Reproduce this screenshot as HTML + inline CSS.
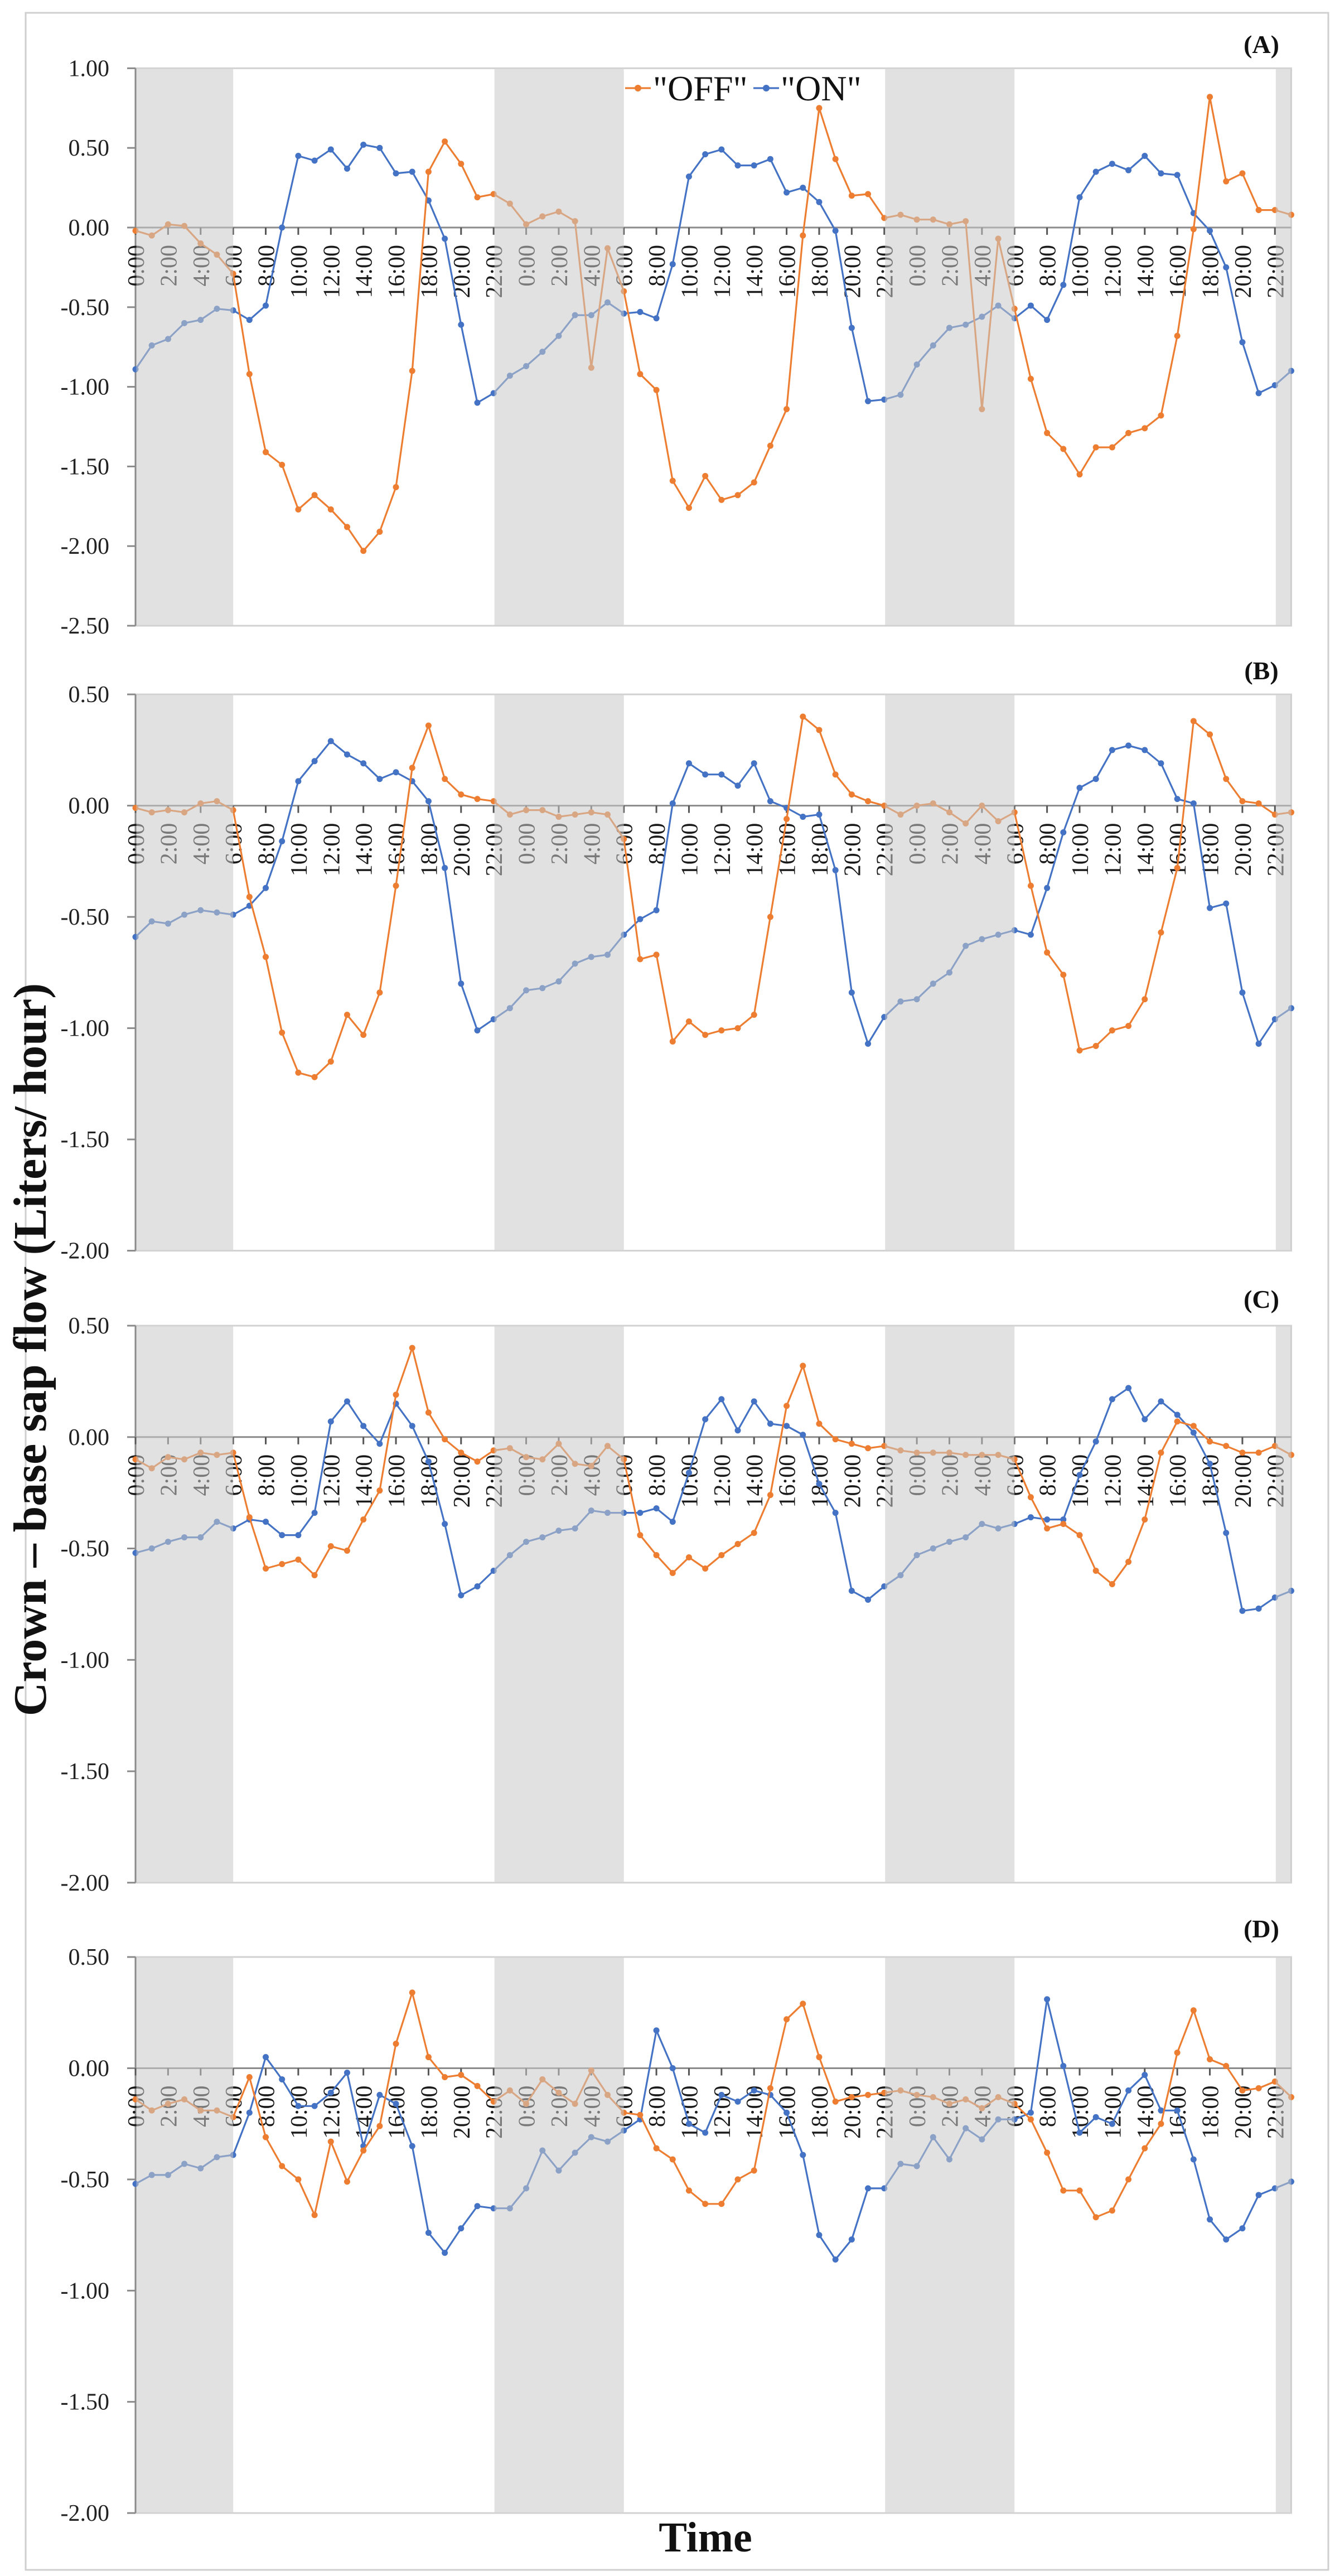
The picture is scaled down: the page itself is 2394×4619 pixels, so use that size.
<!DOCTYPE html>
<html>
<head>
<meta charset="utf-8">
<style>
  html,body{margin:0;padding:0;background:#fff;}
  svg{display:block;}
  text{font-family:"Liberation Serif","DejaVu Serif",serif;}
</style>
</head>
<body>
<svg id="fig" xmlns="http://www.w3.org/2000/svg" width="2394" height="4619" viewBox="0 0 2394 4619">
  <rect x="0" y="0" width="2394" height="4619" fill="#fff"/>
  <rect x="46" y="23" width="2336" height="4585" fill="none" stroke="#cfcfcf" stroke-width="3"/>
  <g id="panels"></g>
  <text x="0" y="0" transform="translate(82,2420) rotate(-90)" text-anchor="middle" font-size="84" font-weight="bold" fill="#111" stroke="#fff" stroke-width="0">Crown – base sap flow (Liters/ hour)</text>
  <text x="1265" y="4575" text-anchor="middle" font-size="76" font-weight="bold" fill="#111">Time</text>
</svg>
<script>
// ---- Data (hourly, 3 days, index 0 = 0:00 day 1) ----
const hourLabels = ["0:00","2:00","4:00","6:00","8:00","10:00","12:00","14:00","16:00","18:00","20:00","22:00"];
const panelNames = ["A","B","C","D"];

const offA = [-0.02,-0.05,0.02,0.01,-0.10,-0.17,-0.29,-0.92,-1.41,-1.49,-1.77,-1.68,-1.77,-1.88,-2.03,-1.91,-1.63,-0.90,0.35,0.54,0.40,0.19,0.21,0.15,0.02,0.07,0.10,0.04,-0.88,-0.13,-0.40,-0.92,-1.02,-1.59,-1.76,-1.56,-1.71,-1.68,-1.60,-1.37,-1.14,-0.05,0.75,0.43,0.20,0.21,0.06,0.08,0.05,0.05,0.02,0.04,-1.14,-0.07,-0.51,-0.95,-1.29,-1.39,-1.55,-1.38,-1.38,-1.29,-1.26,-1.18,-0.68,-0.01,0.82,0.29,0.34,0.11,0.11,0.08];
const onA = [-0.89,-0.74,-0.70,-0.60,-0.58,-0.51,-0.52,-0.58,-0.49,0.00,0.45,0.42,0.49,0.37,0.52,0.50,0.34,0.35,0.17,-0.07,-0.61,-1.10,-1.04,-0.93,-0.87,-0.78,-0.68,-0.55,-0.55,-0.47,-0.54,-0.53,-0.57,-0.23,0.32,0.46,0.49,0.39,0.39,0.43,0.22,0.25,0.16,-0.02,-0.63,-1.09,-1.08,-1.05,-0.86,-0.74,-0.63,-0.61,-0.56,-0.49,-0.57,-0.49,-0.58,-0.36,0.19,0.35,0.40,0.36,0.45,0.34,0.33,0.09,-0.02,-0.25,-0.72,-1.04,-0.99,-0.90];

const offB = [-0.01,-0.03,-0.02,-0.03,0.01,0.02,-0.02,-0.41,-0.68,-1.02,-1.20,-1.22,-1.15,-0.94,-1.03,-0.84,-0.36,0.17,0.36,0.12,0.05,0.03,0.02,-0.04,-0.02,-0.02,-0.05,-0.04,-0.03,-0.04,-0.15,-0.69,-0.67,-1.06,-0.97,-1.03,-1.01,-1.00,-0.94,-0.50,-0.06,0.40,0.34,0.14,0.05,0.02,0.00,-0.04,0.00,0.01,-0.03,-0.08,0.00,-0.07,-0.03,-0.36,-0.66,-0.76,-1.10,-1.08,-1.01,-0.99,-0.87,-0.57,-0.28,0.38,0.32,0.12,0.02,0.01,-0.04,-0.03];
const onB = [-0.59,-0.52,-0.53,-0.49,-0.47,-0.48,-0.49,-0.45,-0.37,-0.16,0.11,0.20,0.29,0.23,0.19,0.12,0.15,0.11,0.02,-0.28,-0.80,-1.01,-0.96,-0.91,-0.83,-0.82,-0.79,-0.71,-0.68,-0.67,-0.58,-0.51,-0.47,0.01,0.19,0.14,0.14,0.09,0.19,0.02,-0.01,-0.05,-0.04,-0.29,-0.84,-1.07,-0.95,-0.88,-0.87,-0.80,-0.75,-0.63,-0.60,-0.58,-0.56,-0.58,-0.37,-0.12,0.08,0.12,0.25,0.27,0.25,0.19,0.03,0.01,-0.46,-0.44,-0.84,-1.07,-0.96,-0.91];

const offC = [-0.10,-0.14,-0.09,-0.10,-0.07,-0.08,-0.07,-0.36,-0.59,-0.57,-0.55,-0.62,-0.49,-0.51,-0.37,-0.24,0.19,0.40,0.11,-0.01,-0.07,-0.11,-0.06,-0.05,-0.09,-0.10,-0.03,-0.12,-0.13,-0.04,-0.10,-0.44,-0.53,-0.61,-0.54,-0.59,-0.53,-0.48,-0.43,-0.26,0.14,0.32,0.06,-0.01,-0.03,-0.05,-0.04,-0.06,-0.07,-0.07,-0.07,-0.08,-0.08,-0.08,-0.10,-0.27,-0.41,-0.39,-0.44,-0.60,-0.66,-0.56,-0.37,-0.07,0.07,0.05,-0.02,-0.04,-0.07,-0.07,-0.04,-0.08];
const onC = [-0.52,-0.50,-0.47,-0.45,-0.45,-0.38,-0.41,-0.37,-0.38,-0.44,-0.44,-0.34,0.07,0.16,0.05,-0.03,0.15,0.05,-0.11,-0.39,-0.71,-0.67,-0.60,-0.53,-0.47,-0.45,-0.42,-0.41,-0.33,-0.34,-0.34,-0.34,-0.32,-0.38,-0.16,0.08,0.17,0.03,0.16,0.06,0.05,0.01,-0.21,-0.34,-0.69,-0.73,-0.67,-0.62,-0.53,-0.50,-0.47,-0.45,-0.39,-0.41,-0.39,-0.36,-0.37,-0.37,-0.17,-0.02,0.17,0.22,0.08,0.16,0.10,0.02,-0.12,-0.43,-0.78,-0.77,-0.72,-0.69];

const offD = [-0.14,-0.19,-0.16,-0.14,-0.19,-0.19,-0.22,-0.04,-0.31,-0.44,-0.50,-0.66,-0.33,-0.51,-0.37,-0.26,0.11,0.34,0.05,-0.04,-0.03,-0.08,-0.15,-0.10,-0.16,-0.05,-0.11,-0.16,-0.01,-0.12,-0.20,-0.21,-0.36,-0.41,-0.55,-0.61,-0.61,-0.50,-0.46,-0.09,0.22,0.29,0.05,-0.15,-0.13,-0.12,-0.11,-0.10,-0.12,-0.13,-0.16,-0.14,-0.18,-0.13,-0.16,-0.23,-0.38,-0.55,-0.55,-0.67,-0.64,-0.50,-0.36,-0.25,0.07,0.26,0.04,0.01,-0.10,-0.09,-0.06,-0.13];
const onD = [-0.52,-0.48,-0.48,-0.43,-0.45,-0.40,-0.39,-0.20,0.05,-0.05,-0.17,-0.17,-0.11,-0.02,-0.35,-0.12,-0.16,-0.35,-0.74,-0.83,-0.72,-0.62,-0.63,-0.63,-0.54,-0.37,-0.46,-0.38,-0.31,-0.33,-0.28,-0.23,0.17,0.00,-0.25,-0.29,-0.12,-0.15,-0.10,-0.12,-0.20,-0.39,-0.75,-0.86,-0.77,-0.54,-0.54,-0.43,-0.44,-0.31,-0.41,-0.27,-0.32,-0.23,-0.23,-0.20,0.31,0.01,-0.29,-0.22,-0.25,-0.10,-0.03,-0.19,-0.19,-0.41,-0.68,-0.77,-0.72,-0.57,-0.54,-0.51];

const ticksA = [1.00,0.50,0.00,-0.50,-1.00,-1.50,-2.00,-2.50];
const ticksBCD = [0.50,0.00,-0.50,-1.00,-1.50,-2.00];
// night periods as [startHourIndex, endHourIndex]
const nightStarts = [0,22,46,70];
const nightEnds = [6,30,54,71];

const offSeries = [offA,offB,offC,offD];
const onSeries = [onA,onB,onC,onD];
const tickSets = [ticksA,ticksBCD,ticksBCD,ticksBCD];

// ---- Layout ----
const NS = "http://www.w3.org/2000/svg";
const X0 = 243, DX = 29.19, NPTS = 72;
const layouts = [
  {zero:408, ppu:285.6, labelY:95},
  {zero:1444.6, ppu:399, labelY:1218},
  {zero:2576.8, ppu:399.5, labelY:2345},
  {zero:3708.5, ppu:398.8, labelY:3474}
];
const ORANGE="#ED7D31", BLUE="#4472C4";

function mk(tag, attrs, parent){
  const e=document.createElementNS(NS,tag);
  for(const k in attrs) e.setAttribute(k,attrs[k]);
  parent.appendChild(e);
  return e;
}
function xOf(i){return X0 + i*DX;}

const root=document.getElementById('panels');
for(let p=0;p<4;p++){
  const L=layouts[p];
  const ticks=tickSets[p];
  const yOf=v=>L.zero - v*L.ppu;
  const yTop=yOf(ticks[0]), yBot=yOf(ticks[ticks.length-1]);
  const xR=xOf(NPTS-1);
  const g=mk('g',{},root);
  
  

  // plot box border
  const box=mk('rect',{x:X0,y:yTop,width:xR-X0,height:yBot-yTop,fill:'none',stroke:'#d2d2d2','stroke-width':3},g);
  
  

  // y axis & ticks
  const ya=mk('line',{x1:X0,y1:yTop,x2:X0,y2:yBot,stroke:'#8a8a8a','stroke-width':3},g);
  
  
  ticks.forEach(t=>{
    const y=yOf(t);
    mk('line',{x1:X0-15,y1:y,x2:X0,y2:y,stroke:'#8a8a8a','stroke-width':3},g);
    const tl=mk('text',{x:196,y:y+14,'text-anchor':'end','font-size':42,fill:'#222'},g);
    tl.textContent=t.toFixed(2);
    
    
  });

  // zero line (category axis)
  const za=mk('line',{x1:X0,y1:L.zero,x2:xR,y2:L.zero,stroke:'#8a8a8a','stroke-width':3},g);
  
  
  for(let i=0;i<NPTS;i+=2){
    const x=xOf(i);
    mk('line',{x1:x,y1:L.zero,x2:x,y2:L.zero+13,stroke:'#555','stroke-width':3},g);
    const tx=mk('text',{x:0,y:0,'text-anchor':'end','font-size':42,fill:'#1a1a1a',transform:`translate(${x+15},${L.zero+31}) rotate(-90)`},g);
    tx.textContent=hourLabels[(i%24)/2];
    
    
  }

  // series
  function drawSeries(vals,color,name){
    const sg=mk('g',{},g);
    
    
    const pts=vals.map((v,i)=>xOf(i).toFixed(1)+','+yOf(v).toFixed(1)).join(' ');
    const pl=mk('polyline',{points:pts,fill:'none',stroke:color,'stroke-width':3.2,'stroke-linejoin':'round'},sg);
    
    
    vals.forEach((v,i)=>{
      const c=mk('circle',{cx:xOf(i),cy:yOf(v),r:5.5,fill:color},sg);
      
      
    });
  }
  drawSeries(onSeries[p],BLUE,'on-series');
  drawSeries(offSeries[p],ORANGE,'off-series');

  // night bands (overlay, fade what lies beneath)
  for(let k=0;k<nightStarts.length;k++){
    const xa=xOf(nightStarts[k]), xb=xOf(nightEnds[k]);
    const b=mk('rect',{x:xa+1.5,y:yTop+1.5,width:xb-xa-1.5,height:yBot-yTop-3,fill:'rgba(200,200,200,0.55)'},g);
    
    
  }

  // panel label
  const lab=mk('text',{x:2262,y:L.labelY,'text-anchor':'middle','font-size':46,'font-weight':'bold',fill:'#111'},g);
  lab.textContent='('+panelNames[p]+')';
  
  
}

// legend (panel A)
const lg=mk('g',{},root);


const le1=mk('g',{},lg);


mk('line',{x1:1121,y1:158,x2:1167,y2:158,stroke:ORANGE,'stroke-width':3.2},le1);
mk('circle',{cx:1144,cy:158,r:6,fill:ORANGE},le1);
const t1=mk('text',{x:1171,y:180,'font-size':64,fill:'#111'},le1);
t1.textContent='"OFF"';
const le2=mk('g',{},lg);


mk('line',{x1:1351,y1:158,x2:1397,y2:158,stroke:BLUE,'stroke-width':3.2},le2);
mk('circle',{cx:1374,cy:158,r:6,fill:BLUE},le2);
const t2=mk('text',{x:1400,y:180,'font-size':64,fill:'#111'},le2);
t2.textContent='"ON"';
</script>
</body>
</html>
